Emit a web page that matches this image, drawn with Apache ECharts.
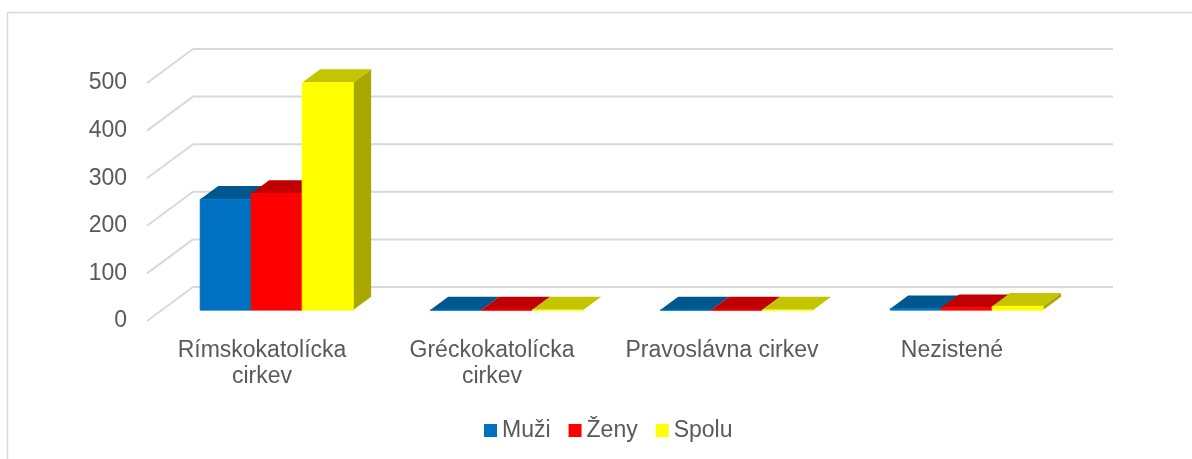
<!DOCTYPE html>
<html>
<head>
<meta charset="utf-8">
<script src="https://cdn.jsdelivr.net/npm/echarts@6/dist/echarts.min.js"></script>
<style>
  html, body { margin: 0; padding: 0; background: #fff; }
  #chart { width: 1192px; height: 459px; }
</style>
</head>
<body>
<div id="chart"></div>
<script>
// data
const categories = ['Rímskokatolícka\ncirkev', 'Gréckokatolícka\ncirkev', 'Pravoslávna cirkev', 'Nezistené'];
const seriesNames = ['Muži', 'Ženy', 'Spolu'];
const muzi = [233, 0, 0, 3];
const zeny = [245, 0, 0, 5];
const spolu = [478, 0, 0, 8];
const yTicks = [0, 100, 200, 300, 400, 500];

const colors = ['#0070C0', '#FF0000', '#FFFF00'];
const topColors = ['#00578F', '#C00000', '#C4C400'];
const sideColors = ['#004A7A', '#A00000', '#A8A800'];

// fake 3d: depth vector from front plane to back wall
const DX = 46, DY = -34;
const barFront = 0.32, barBack = 0.71;
const barShare = 0.665;
const font = "'Liberation Sans', Arial, sans-serif";

const chart = echarts.init(document.getElementById('chart'));

function renderWall(params, api) {
  const cs = params.coordSys;
  const y = api.coord([0, api.value(1)])[1];
  const x0 = cs.x, x1 = cs.x + cs.width;
  const style = { stroke: '#D9D9D9', lineWidth: 2, fill: null };
  return {
    type: 'group',
    children: [
      { type: 'line', shape: { x1: x0, y1: y, x2: x0 + DX, y2: y + DY }, style: style },
      { type: 'line', shape: { x1: x0 + DX, y1: y + DY, x2: x1 + DX, y2: y + DY }, style: style }
    ]
  };
}

function renderBar(params, api) {
  const k = params.seriesIndex - 1;
  const idx = api.value(0);
  const base = api.coord([idx, 0]);
  const top = api.coord([idx, api.value(1)]);
  const bw = api.size([1, 0])[0] * barShare / 3;
  const xl = base[0] + (k - 1.5) * bw + barFront * DX;
  const xr = xl + bw;
  const yb = base[1] + barFront * DY;
  const yt = top[1] + barFront * DY;
  const ddx = (barBack - barFront) * DX;
  const ddy = (barBack - barFront) * DY;
  return {
    type: 'group',
    children: [
      {
        type: 'polygon',
        shape: { points: [[xr, yt], [xr + ddx, yt + ddy], [xr + ddx, yb + ddy], [xr, yb]] },
        style: { fill: sideColors[k] }
      },
      {
        type: 'polygon',
        shape: { points: [[xl, yt], [xr, yt], [xr + ddx, yt + ddy], [xl + ddx, yt + ddy]] },
        style: { fill: topColors[k] }
      },
      {
        type: 'rect',
        shape: { x: xl, y: yt, width: bw, height: yb - yt },
        style: { fill: colors[k], stroke: colors[k], lineWidth: 1 }
      }
    ]
  };
}

const barSeries = [muzi, zeny, spolu].map(function (vals, i) {
  return {
    name: seriesNames[i],
    type: 'custom',
    renderItem: renderBar,
    itemStyle: { color: colors[i] },
    data: vals.map(function (v, j) { return [j, v]; }),
    z: 3
  };
});

const option = {
  animation: false,
  graphic: [{
    type: 'rect',
    shape: { x: 7.5, y: 12.5, width: 1400, height: 600 },
    style: { fill: 'none', stroke: '#D9D9D9', lineWidth: 1.5 },
    z: -10
  }],
  grid: { left: 147, top: 83, width: 920, height: 238 },
  legend: {
    data: seriesNames,
    left: 484,
    top: 419,
    padding: 0,
    icon: 'rect',
    itemWidth: 13,
    itemHeight: 13,
    itemGap: 18,
    textStyle: { fontSize: 23, color: '#595959', fontFamily: font }
  },
  xAxis: {
    type: 'category',
    data: categories,
    axisLine: { show: false },
    axisTick: { show: false },
    axisLabel: {
      interval: 0,
      margin: 17,
      fontSize: 23,
      lineHeight: 26,
      color: '#595959',
      fontFamily: font
    }
  },
  yAxis: {
    type: 'value',
    min: 0,
    max: 500,
    interval: 100,
    axisLine: { show: false },
    axisTick: { show: false },
    splitLine: { show: false },
    axisLabel: { margin: 20, fontSize: 23, color: '#595959', fontFamily: font }
  },
  series: [{
    type: 'custom',
    renderItem: renderWall,
    data: yTicks.map(function (v) { return [0, v]; }),
    silent: true,
    z: 1
  }].concat(barSeries)
};

chart.setOption(option);
</script>
</body>
</html>
